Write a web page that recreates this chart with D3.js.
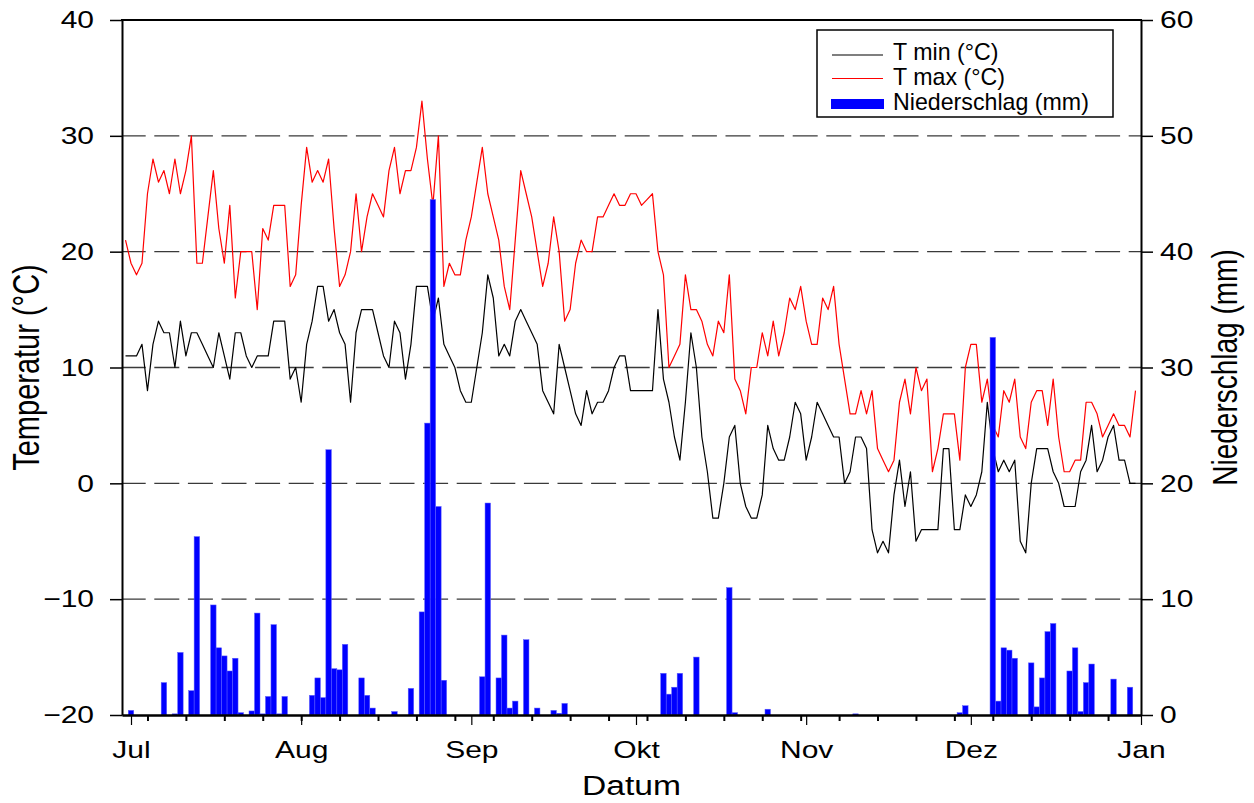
<!DOCTYPE html>
<html>
<head>
<meta charset="utf-8">
<script src="https://cdn.jsdelivr.net/npm/d3@7"></script>
<style>
  body { margin: 0; background: #fff; }
  svg { display: block; font-family: Arial, "Liberation Sans", Helvetica, sans-serif; }
</style>
</head>
<body>
<svg id="chart" width="1254" height="803"></svg>
<script>
// ---- data: daily values, first entry 30 Jun, last entry 31 Dec ----
const monthLabels = ["Jul", "Aug", "Sep", "Okt", "Nov", "Dez", "Jan"];
const tempTicks = [-20, -10, 0, 10, 20, 30, 40];
const rainTicks = [0, 10, 20, 30, 40, 50, 60];

const tmin = [
  11, 11, 11, 12, 8, 12, 14, 13, 13, 10, 14, 11, 13, 13, 12, 11, 10, 13, 11, 9,
  13, 13, 11, 10, 11, 11, 11, 14, 14, 14, 9, 10, 7, 12, 14, 17, 17, 14, 15, 13,
  12, 7, 13, 15, 15, 15, 13, 11, 10, 14, 13, 9, 12, 17, 17, 17, 14, 16, 12, 11,
  10, 8, 7, 7, 10, 13, 18, 16, 11, 12, 11, 14, 15, 14, 13, 12, 8, 7, 6, 12,
  10, 8, 6, 5, 8, 6, 7, 7, 8, 10, 11, 11, 8, 8, 8, 8, 8, 15, 9, 7,
  4, 2, 7, 13, 10, 4, 1, -3, -3, 0, 4, 5, 0, -2, -3, -3, -1, 5, 3, 2,
  2, 4, 7, 6, 2, 4, 7, 6, 5, 4, 4, 0, 1, 4, 4, 3, -4, -6, -5, -6,
  -1, 2, -2, 1, -5, -4, -4, -4, -4, 3, 3, -4, -4, -1, -2, -1, 1, 7, 3, 1,
  2, 1, 2, -5, -6, 0, 3, 3, 3, 1, 0, -2, -2, -2, 1, 2, 5, 1, 2, 4,
  5, 2, 2, 0, 0
];

const tmax = [
  21, 19, 18, 19, 25, 28, 26, 27, 25, 28, 25, 27, 30, 19, 19, 23, 27, 22, 19, 24,
  16, 20, 20, 20, 15, 22, 21, 24, 24, 24, 17, 18, 24, 29, 26, 27, 26, 28, 22, 17,
  18, 20, 25, 20, 23, 25, 24, 23, 27, 29, 25, 27, 27, 29, 33, 28, 24, 30, 17, 19,
  18, 18, 21, 23, 26, 29, 25, 23, 21, 17, 15, 21, 27, 25, 23, 20, 17, 19, 23, 20,
  14, 15, 19, 21, 20, 20, 23, 23, 24, 25, 24, 24, 25, 25, 24, 24.5, 25, 20, 18, 10,
  11, 12, 18, 15, 15, 14, 12, 11, 14, 13, 18, 9, 8, 6, 10, 10, 13, 11, 14, 11,
  13, 16, 15, 17, 14, 12, 12, 16, 15, 17, 12, 9, 6, 6, 8, 6, 8, 3, 2, 1,
  2, 7, 9, 6, 10, 8, 9, 1, 3, 6, 6, 6, 2, 10, 12, 12, 7, 9, 5, 4,
  8, 7, 9, 4, 3, 7, 8, 8, 5, 9, 4, 1, 1, 2, 2, 7, 7, 6, 4, 5,
  6, 5, 5, 4, 8
];

const rain = [
  0, 0.4, 0, 0, 0, 0, 0, 2.8, 0, 0.1,
  5.4, 0, 2.1, 15.4, 0, 0, 9.5, 5.8, 5.1, 3.8,
  4.9, 0.2, 0, 0.35, 8.8, 0.1, 1.6, 7.8, 0.1, 1.6,
  0, 0, 0, 0, 1.7, 3.2, 1.5, 22.9, 4.0, 3.9,
  6.1, 0, 0, 3.2, 1.7, 0.6, 0, 0, 0, 0.3,
  0, 0, 2.3, 0, 8.9, 25.2, 44.5, 18.0, 3.0, 0,
  0, 0, 0, 0, 0, 3.3, 18.3, 0, 3.2, 6.9,
  0.6, 1.2, 0, 6.5, 0, 0.6, 0, 0, 0.4, 0.15,
  1.0, 0, 0, 0, 0, 0, 0, 0, 0, 0,
  0, 0, 0, 0, 0, 0, 0, 0, 3.6, 1.8,
  2.4, 3.6, 0, 0, 5.0, 0, 0, 0, 0, 0,
  11.0, 0.2, 0, 0, 0, 0, 0, 0.5, 0, 0,
  0, 0, 0, 0, 0, 0, 0, 0, 0, 0,
  0, 0, 0, 0.1, 0, 0, 0, 0, 0, 0,
  0, 0, 0, 0, 0, 0, 0, 0, 0, 0,
  0, 0, 0.2, 0.8, 0, 0, 0, 0, 32.6, 1.2,
  5.8, 5.6, 4.9, 0, 0, 4.5, 0.7, 3.2, 7.2, 7.9,
  0, 0, 3.8, 5.8, 0.3, 2.8, 4.4, 0, 0, 0,
  3.1, 0, 0, 2.4, 0
];

const DAY = 864e5;
const firstDay = Date.UTC(2010, 5, 30);
const dates = tmax.map((_, i) => new Date(firstDay + i * DAY));

// ---- layout ----
const plotL = 122, plotR = 1141, plotT = 20, plotB = 715;
const svg = d3.select("#chart");

const jul1 = Date.UTC(2010, 6, 1);
const jan1 = Date.UTC(2011, 0, 1);
const x = d3.scaleUtc()
  .domain([new Date(jul1 - 1.64 * DAY), new Date(jan1)])
  .range([plotL, plotR]);
const yT = d3.scaleLinear().domain([-20, 40]).range([plotB, plotT]);
const yP = d3.scaleLinear().domain([0, 60]).range([plotB, plotT]);

const monthStarts = d3.utcMonth.range(new Date(jul1), new Date(jan1 + DAY));
const weekTicks = d3.utcSunday.range(new Date(jul1), new Date(jan1));
const dayW = x(new Date(jul1 + DAY)) - x(new Date(jul1));

// horizontally widened text, keeping its anchor point fixed
function widen(sel, k) {
  sel.each(function () {
    const t = d3.select(this);
    const x0 = +t.attr("x") || 0;
    t.attr("x", x0 / k).attr("transform", `scale(${k},1)`);
  });
}

// ---- dashed grid ----
svg.append("g")
  .selectAll("line")
  .data([-10, 0, 10, 20, 30])
  .join("line")
  .attr("x1", plotL).attr("x2", plotR)
  .attr("y1", d => yT(d)).attr("y2", d => yT(d))
  .attr("stroke", "#3a3a3a")
  .attr("stroke-width", 1.3)
  .attr("stroke-dasharray", "25 8.6")
  .attr("stroke-dashoffset", 1.3);

// ---- temperature lines ----
const lineOf = arr => d3.line()
  .x((d, i) => x(dates[i]))
  .y(d => yT(d))(arr);

svg.append("path")
  .attr("d", lineOf(tmin))
  .attr("fill", "none").attr("stroke", "#000").attr("stroke-width", 1.2)
  .attr("stroke-linejoin", "round");

svg.append("path")
  .attr("d", lineOf(tmax))
  .attr("fill", "none").attr("stroke", "#ff0000").attr("stroke-width", 1.2)
  .attr("stroke-linejoin", "round");

// ---- precipitation bars ----
svg.append("g")
  .selectAll("rect")
  .data(rain.map((v, i) => ({ v, d: dates[i] })).filter(o => o.v > 0))
  .join("rect")
  .attr("x", o => x(o.d) - dayW / 2)
  .attr("width", dayW)
  .attr("y", o => yP(o.v))
  .attr("height", o => yP(0) - yP(o.v))
  .attr("fill", "#0000ff")
  .attr("stroke", "#5c5cff")
  .attr("stroke-width", 0.5);

// ---- axes ----
const tickFont = 24, tickK = 1.25;

const gLeft = svg.append("g").attr("transform", `translate(${plotL},0)`)
  .call(d3.axisLeft(yT).tickValues(tempTicks).tickSize(12).tickSizeOuter(0).tickPadding(16));
const gRight = svg.append("g").attr("transform", `translate(${plotR},0)`)
  .call(d3.axisRight(yP).tickValues(rainTicks).tickSize(12).tickSizeOuter(0).tickPadding(7));
const gWeek = svg.append("g").attr("transform", `translate(0,${plotB})`)
  .call(d3.axisBottom(x).tickValues(weekTicks).tickSize(6).tickSizeOuter(0).tickFormat(""));
const gMonth = svg.append("g").attr("transform", `translate(0,${plotB})`)
  .call(d3.axisBottom(x).tickValues(monthStarts).tickSize(10).tickSizeOuter(0)
    .tickPadding(16).tickFormat((d, i) => monthLabels[i]));

[gLeft, gRight, gWeek, gMonth].forEach(g => {
  g.selectAll("text").attr("font-size", tickFont).attr("fill", "#000")
    .attr("font-family", "Arial, 'Liberation Sans', sans-serif");
  g.selectAll("line").attr("stroke", "#000");
  g.select(".domain").attr("stroke", "#000").attr("stroke-width", 2);
});
gLeft.selectAll(".tick line").attr("stroke-width", 1.5);
gRight.selectAll(".tick line").attr("stroke-width", 1.5);
gWeek.selectAll(".tick line").attr("stroke-width", 2);
gMonth.selectAll(".tick line").attr("stroke-width", 1.2);
widen(gLeft.selectAll("text"), tickK);
widen(gRight.selectAll("text"), tickK);
widen(gMonth.selectAll("text"), tickK);

// top frame line
svg.append("line")
  .attr("x1", plotL - 1).attr("x2", plotR + 1)
  .attr("y1", plotT).attr("y2", plotT)
  .attr("stroke", "#000").attr("stroke-width", 2);

// ---- axis titles ----
svg.append("text")
  .attr("transform", `translate(39,${(plotT + plotB) / 2}) rotate(-90) scale(1,1.25)`)
  .attr("text-anchor", "middle").attr("font-size", 29)
  .text("Temperatur (°C)");

svg.append("text")
  .attr("transform", `translate(1237,${(plotT + plotB) / 2}) rotate(-90) scale(1,1.25)`)
  .attr("text-anchor", "middle").attr("font-size", 28)
  .text("Niederschlag (mm)");

svg.append("text")
  .attr("transform", `translate(${(plotL + plotR) / 2},795) scale(1.2,1)`)
  .attr("text-anchor", "middle").attr("font-size", 28)
  .text("Datum");

// ---- legend ----
const lg = svg.append("g");
lg.append("rect")
  .attr("x", 817).attr("y", 30).attr("width", 296).attr("height", 87)
  .attr("fill", "#fff").attr("stroke", "#000").attr("stroke-width", 1.5);

const legendItems = [
  { label: "T min (°C)", kind: "line", color: "#000", y: 55, base: 60 },
  { label: "T max (°C)", kind: "line", color: "#ff0000", y: 78.5, base: 85 },
  { label: "Niederschlag (mm)", kind: "bar", color: "#0000ff", y: 104, base: 110 }
];
legendItems.forEach(it => {
  if (it.kind === "line") {
    lg.append("line").attr("x1", 832).attr("x2", 883)
      .attr("y1", it.y).attr("y2", it.y)
      .attr("stroke", it.color).attr("stroke-width", 1.2);
  } else {
    lg.append("rect").attr("x", 831).attr("y", it.y - 5).attr("width", 53).attr("height", 10)
      .attr("fill", it.color);
  }
  lg.append("text").attr("x", 893).attr("y", it.base)
    .attr("font-size", 23.2).text(it.label);
});
</script>
</body>
</html>
